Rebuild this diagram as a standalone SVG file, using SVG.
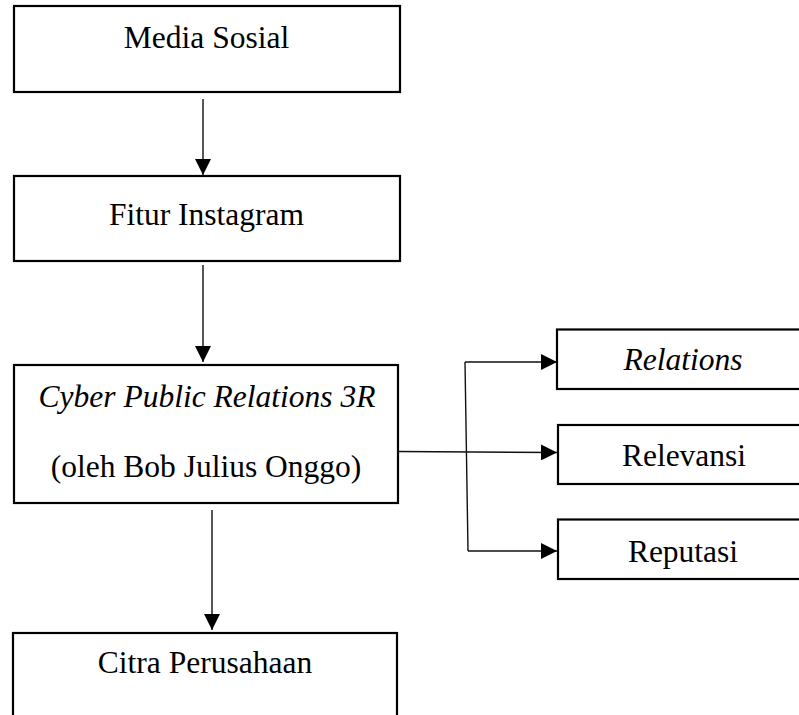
<svg xmlns="http://www.w3.org/2000/svg" width="799" height="715" viewBox="0 0 799 715">
<style>
.box{fill:#fff;stroke:#000;stroke-width:2.2}
.t{font-family:"Liberation Serif","Times New Roman",serif;font-size:31.5px;fill:#000;text-anchor:middle}
.i{font-style:italic}
.c{fill:none;stroke:#111;stroke-width:1.4}
</style>
<defs>
<marker id="ah" markerUnits="userSpaceOnUse" markerWidth="16" markerHeight="16" refX="16" refY="8" orient="auto">
<path d="M0,0 L16,8 L0,16 Z" fill="#000"/>
</marker>
</defs>
<rect width="799" height="715" fill="#fff"/>
<g id="connectors">
<line class="c" x1="203" y1="99" x2="203" y2="175" marker-end="url(#ah)"/>
<line class="c" x1="203" y1="265" x2="203" y2="362" marker-end="url(#ah)"/>
<line class="c" x1="212" y1="510" x2="212" y2="630" marker-end="url(#ah)"/>
<line class="c" x1="398" y1="451.5" x2="557" y2="452.5" marker-end="url(#ah)"/>
<line class="c" x1="465" y1="362" x2="557" y2="362" marker-end="url(#ah)"/>
<line class="c" x1="465" y1="362" x2="468" y2="551"/>
<line class="c" x1="468" y1="551" x2="557" y2="551" marker-end="url(#ah)"/>
</g>
<g id="media-sosial">
<rect class="box" x="14" y="6" width="386" height="86"/>
<text class="t" x="206.5" y="48">Media Sosial</text>
</g>
<g id="fitur-instagram">
<rect class="box" x="14" y="176" width="386" height="85"/>
<text class="t" x="206.5" y="225">Fitur Instagram</text>
</g>
<g id="cyber-pr">
<rect class="box" x="14" y="365" width="384" height="138"/>
<text class="t i" x="207" y="407">Cyber Public Relations 3R</text>
<text class="t" x="206" y="477">(oleh Bob Julius Onggo)</text>
</g>
<g id="citra-perusahaan">
<rect class="box" x="13" y="633" width="384" height="100"/>
<text class="t" x="205" y="673">Citra Perusahaan</text>
</g>
<g id="relations">
<rect class="box" x="557" y="329.5" width="260" height="59.5"/>
<text class="t i" x="683" y="370">Relations</text>
</g>
<g id="relevansi">
<rect class="box" x="558" y="425" width="260" height="59"/>
<text class="t" x="684" y="466">Relevansi</text>
</g>
<g id="reputasi">
<rect class="box" x="558" y="519.5" width="260" height="59.5"/>
<text class="t" x="683" y="562">Reputasi</text>
</g>
</svg>
